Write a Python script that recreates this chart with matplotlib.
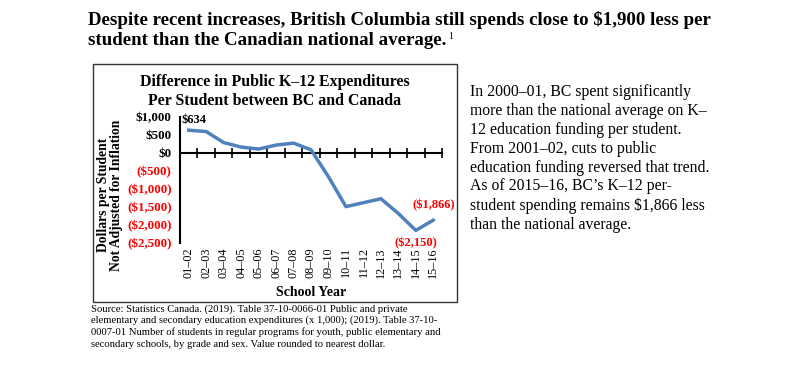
import matplotlib.pyplot as plt
from matplotlib.patches import Rectangle

plt.rcParams['font.family'] = ['Liberation Serif', 'DejaVu Serif']

# Data
years = ['01–02', '02–03', '03–04', '04–05', '05–06', '06–07', '07–08', '08–09',
         '09–10', '10–11', '11–12', '12–13', '13–14', '14–15', '15–16']
diff = [634, 595, 290, 165, 110, 220, 275, 90,
        -660, -1490, -1380, -1270, -1680, -2150, -1866]
y_ticks = [1000, 500, 0, -500, -1000, -1500, -2000, -2500]
y_labels = ['$1,000', '$500', '$0', '($500)', '($1,000)', '($1,500)', '($2,000)', '($2,500)']

W, H = 802, 367
fig = plt.figure(figsize=(W / 100, H / 100), dpi=100)


def fx(px):
    return px / W


def fy(py):
    return 1 - py / H


# Headline
fig.text(fx(88), fy(25), 'Despite recent increases, British Columbia still spends close to \\$1,900 less per',
         fontsize=13.6, fontweight='bold', va='baseline', ha='left')
t2 = fig.text(fx(88), fy(45), 'student than the Canadian national average.',
              fontsize=13.6, fontweight='bold', va='baseline', ha='left')

# Chart frame
fig.patches.append(Rectangle((fx(93), fy(302)), fx(457) - fx(93), fy(64) - fy(302),
                             transform=fig.transFigure, fill=False, edgecolor='#333333', lw=1.0))

# Chart title
fig.text(fx(275), fy(82), 'Difference in Public K–12 Expenditures',
         fontsize=11.4, fontweight='bold', ha='center', va='center')
fig.text(fx(275), fy(101), 'Per Student between BC and Canada',
         fontsize=11.4, fontweight='bold', ha='center', va='center')

ax = fig.add_axes([fx(180), fy(243), fx(442) - fx(180), fy(117) - fy(243)])
x = [i + 0.5 for i in range(len(years))]
ax.plot(x, diff, color='#4F81BD', lw=2.5, solid_joinstyle='round', zorder=3)
ax.set_xlim(0, len(years))
ax.set_ylim(-2500, 1000)

# footnote mark on the headline
ax.annotate('1', xy=(1, 1), xycoords=t2, xytext=(1, 0), textcoords='offset points',
            ha='left', va='top', fontsize=7, annotation_clip=False)

for s in ['top', 'right']:
    ax.spines[s].set_visible(False)
ax.spines['left'].set_linewidth(1.5)
ax.spines['bottom'].set_position(('data', 0))
ax.spines['bottom'].set_linewidth(1.5)
ax.set_xticks(range(len(years) + 1))
ax.tick_params(axis='x', direction='inout', length=7, width=1.2, labelbottom=False)

ax.set_yticks(y_ticks)
ax.set_yticklabels(y_labels)
ax.tick_params(axis='y', length=0, pad=6, labelsize=9.4)
for lab, v in zip(ax.get_yticklabels(), y_ticks):
    lab.set_fontweight('bold')
    lab.set_color('red' if v < 0 else 'black')

sec = ax.secondary_xaxis('bottom')
sec.set_xticks(x)
sec.set_xticklabels(years, rotation=90, fontsize=8.7)
sec.tick_params(length=0, pad=3)
sec.spines['bottom'].set_visible(False)

ax.annotate('$634', (x[0], diff[0]), xytext=(4, 7), textcoords='offset points',
            ha='center', va='center', fontsize=9, fontweight='bold')
ax.annotate('(\\$1,866)', (x[-1], diff[-1]), xytext=(0, 11), textcoords='offset points',
            ha='center', va='center', fontsize=9, fontweight='bold', color='red',
            arrowprops=dict(arrowstyle='-', color='#888888', lw=0.7, shrinkA=4, shrinkB=1))
ax.annotate('(\\$2,150)', (x[-2], diff[-2]), xytext=(0, -9), textcoords='offset points',
            ha='center', va='center', fontsize=9, fontweight='bold', color='red')

# Axis titles
fig.text(fx(103), fy(195), 'Dollars per Student', rotation=90,
         fontsize=9.8, fontweight='bold', ha='center', va='center')
fig.text(fx(117), fy(195), 'Not Adjusted for Inflation', rotation=90,
         fontsize=9.8, fontweight='bold', ha='center', va='center')
fig.text(fx(311), fy(293), 'School Year', fontsize=10, fontweight='bold', ha='center', va='center')

# Source
fig.text(fx(91), fy(304),
         'Source: Statistics Canada. (2019). Table 37-10-0066-01 Public and private\n'
         'elementary and secondary education expenditures (x 1,000); (2019). Table 37-10-\n'
         '0007-01 Number of students in regular programs for youth, public elementary and\n'
         'secondary schools, by grade and sex. Value rounded to nearest dollar.',
         fontsize=7.7, ha='left', va='top', linespacing=1.3)

# Side text
fig.text(fx(470), fy(84),
         'In 2000–01, BC spent significantly\n'
         'more than the national average on K–\n'
         '12 education funding per student.\n'
         'From 2001–02, cuts to public\n'
         'education funding reversed that trend.\n'
         'As of 2015–16, BC’s K–12 per-\n'
         'student spending remains \\$1,866 less\n'
         'than the national average.',
         fontsize=11.3, ha='left', va='top', linespacing=1.24)

fig.savefig('out.png', dpi=100)
